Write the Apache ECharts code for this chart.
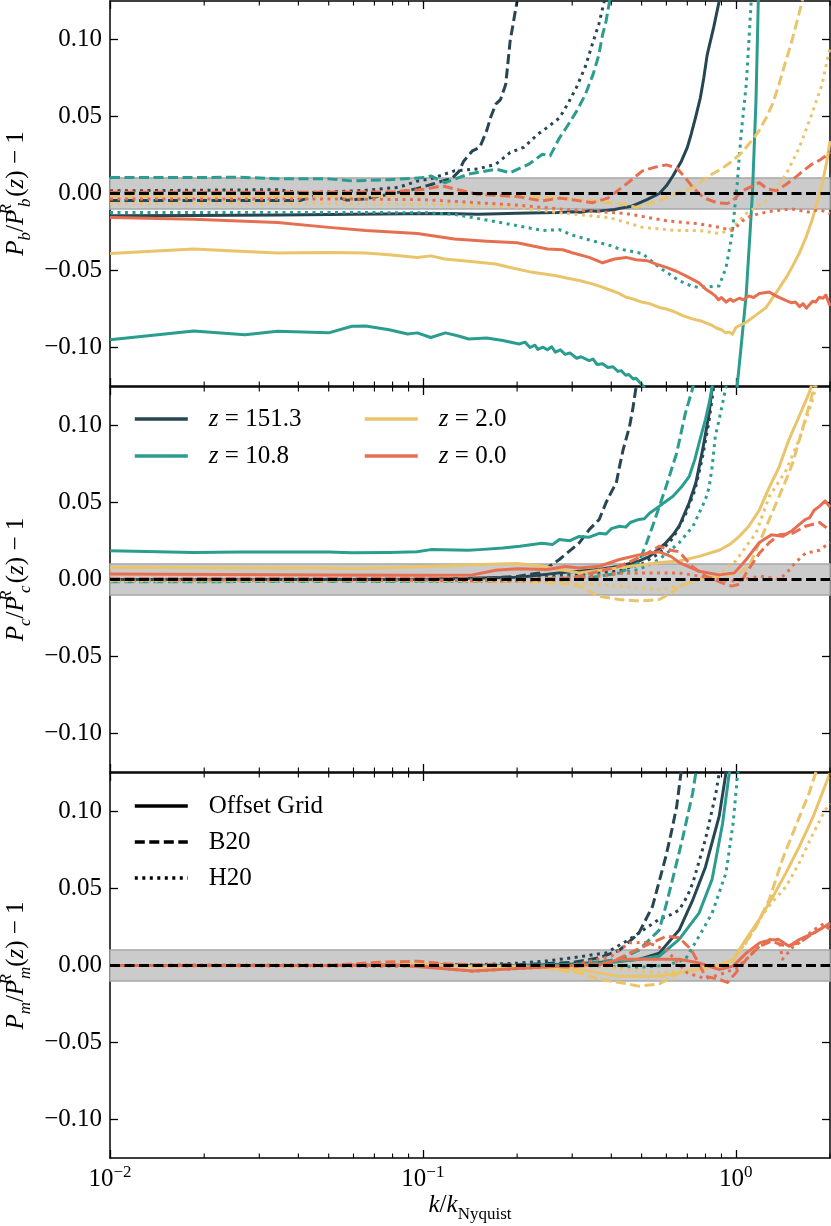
<!DOCTYPE html>
<html>
<head>
<meta charset="UTF-8">
<title>Power spectrum ratios</title>
<script src="https://cdn.jsdelivr.net/npm/echarts@6.0.0/dist/echarts.min.js"></script>
<style>
  html, body { margin: 0; padding: 0; background: #fff; }
  #main { width: 831px; height: 1226px; }
</style>
</head>
<body>
<div id="main"></div>
<script>
// ---- labels / ticks ----
const redshifts = ['151.3', '10.8', '2.0', '0.0'];
const methods = ['Offset Grid', 'B20', 'H20'];
const yTicks = [-0.1, -0.05, 0, 0.05, 0.1];
const xTicks = [0.01, 0.1, 1];
const minorK = [0.02, 0.03, 0.04, 0.05, 0.06, 0.07, 0.08, 0.09,
                0.2, 0.3, 0.4, 0.5, 0.6, 0.7, 0.8, 0.9, 2];

// ---- panel 1: P_b ----  [k/kNyq, ratio - 1]
const bNavySolid = [[0.01,-0.0145],[0.0185,-0.0143],[0.035,-0.014],[0.06,-0.0135],[0.09,-0.0132],[0.12,-0.013],[0.15,-0.0135],[0.2,-0.0128],[0.24,-0.0125],[0.27,-0.0123],[0.3,-0.0118],[0.32,-0.0122],[0.34,-0.0112],[0.36,-0.0116],[0.39,-0.0108],[0.41,-0.0104],[0.43,-0.0095],[0.46,-0.0085],[0.48,-0.007],[0.52,-0.004],[0.57,0],[0.6,0.005],[0.63,0.0115],[0.67,0.021],[0.7,0.03],[0.72,0.0385],[0.745,0.05],[0.77,0.062],[0.79,0.075],[0.81,0.09],[0.85,0.108],[0.885,0.125],[0.95,0.2]];
const bNavyDashed = [[0.01,-0.0045],[0.02,-0.0045],[0.035,-0.0045],[0.0407,-0.0045],[0.045,-0.0015],[0.05,0.0],[0.057,-0.0043],[0.065,-0.0035],[0.078,-0.0005],[0.095,0.003],[0.107,0.006],[0.124,0.01],[0.13,0.014],[0.135,0.021],[0.144,0.0277],[0.152,0.03],[0.16,0.041],[0.165,0.05],[0.171,0.058],[0.177,0.061],[0.184,0.071],[0.19,0.099],[0.2,0.125],[0.21,0.16]];
const bNavyDotted = [[0.01,0.0017],[0.0343,0.0025],[0.0407,0.0005],[0.05,0.001],[0.065,0.002],[0.0836,0.004],[0.0957,0.008],[0.106,0.0095],[0.126,0.0147],[0.15,0.016],[0.171,0.019],[0.19,0.0266],[0.21,0.03],[0.233,0.0385],[0.25,0.043],[0.273,0.049],[0.29,0.058],[0.309,0.0686],[0.33,0.082],[0.348,0.097],[0.365,0.11],[0.38,0.125],[0.4,0.15]];
const bTealSolid = [[0.01,-0.095],[0.0185,-0.0893],[0.027,-0.0917],[0.0343,-0.0895],[0.05,-0.0905],[0.0593,-0.0862],[0.0657,-0.086],[0.078,-0.0885],[0.0894,-0.0912],[0.096,-0.0905],[0.106,-0.0935],[0.118,-0.0905],[0.13,-0.0925],[0.14,-0.0945],[0.16,-0.0938],[0.18,-0.0955],[0.203,-0.0977],[0.212,-0.0965],[0.22,-0.1],[0.228,-0.0985],[0.233,-0.1012],[0.242,-0.0998],[0.25,-0.1015],[0.258,-0.0995],[0.265,-0.103],[0.275,-0.1015],[0.285,-0.1045],[0.295,-0.1035],[0.31,-0.107],[0.32,-0.106],[0.34,-0.1085],[0.35,-0.1075],[0.36,-0.111],[0.375,-0.1105],[0.39,-0.113],[0.405,-0.1125],[0.42,-0.1155],[0.43,-0.115],[0.445,-0.118],[0.455,-0.1175],[0.47,-0.1205],[0.48,-0.12],[0.51,-0.126],[0.6,-0.2],[0.8,-0.35],[0.97,-0.2],[1.01,-0.125],[1.045,-0.095],[1.08,-0.065],[1.11,-0.026],[1.13,0],[1.16,0.06],[1.18,0.125],[1.2,0.2]];
const bTealDashed = [[0.01,0.0104],[0.02,0.0104],[0.026,0.0106],[0.0343,0.0095],[0.05,0.0095],[0.0593,0.0082],[0.078,0.009],[0.1026,0.0104],[0.106,0.0114],[0.1175,0.007],[0.1395,0.0125],[0.171,0.0158],[0.19,0.0135],[0.218,0.019],[0.241,0.0255],[0.255,0.0244],[0.273,0.036],[0.29,0.044],[0.31,0.0535],[0.33,0.064],[0.35,0.0775],[0.365,0.09],[0.375,0.103],[0.385,0.112],[0.395,0.125],[0.41,0.15]];
const bTealDotted = [[0.01,-0.0123],[0.05,-0.0123],[0.1026,-0.0125],[0.126,-0.0135],[0.144,-0.0156],[0.19,-0.02],[0.241,-0.024],[0.273,-0.0235],[0.3,-0.027],[0.348,-0.0307],[0.4,-0.034],[0.425,-0.036],[0.503,-0.039],[0.569,-0.048],[0.659,-0.0566],[0.72,-0.06],[0.763,-0.061],[0.885,-0.06],[0.931,-0.048],[0.974,-0.026],[1.01,0.006],[1.04,0.0386],[1.08,0.071],[1.104,0.103],[1.12,0.125],[1.14,0.16]];
const bYellowSolid = [[0.01,-0.039],[0.0185,-0.036],[0.026,-0.0375],[0.0343,-0.0387],[0.05,-0.0383],[0.0657,-0.0387],[0.078,-0.0398],[0.096,-0.0415],[0.106,-0.0405],[0.1175,-0.0425],[0.145,-0.0443],[0.171,-0.0458],[0.19,-0.048],[0.224,-0.0512],[0.267,-0.0534],[0.29,-0.055],[0.316,-0.0565],[0.348,-0.0587],[0.37,-0.0605],[0.4,-0.063],[0.42,-0.0645],[0.446,-0.0674],[0.47,-0.0685],[0.5,-0.0705],[0.53,-0.0715],[0.569,-0.074],[0.6,-0.075],[0.64,-0.077],[0.68,-0.0795],[0.726,-0.0814],[0.78,-0.083],[0.841,-0.0857],[0.87,-0.0875],[0.9,-0.0885],[0.93,-0.0905],[0.953,-0.09],[0.975,-0.0915],[1.0,-0.087],[1.08,-0.0836],[1.16,-0.079],[1.25,-0.074],[1.35,-0.064],[1.45,-0.0545],[1.52,-0.047],[1.594,-0.039],[1.68,-0.028],[1.75,-0.0177],[1.82,-0.006],[1.887,0.006],[1.95,0.02],[2.0,0.034]];
const bYellowDashed = [[0.01,-0.002],[0.05,-0.002],[0.1,-0.001],[0.15,0.0],[0.2,-0.0015],[0.273,-0.003],[0.348,-0.0047],[0.44,-0.007],[0.48,-0.009],[0.52,-0.007],[0.569,-0.0047],[0.65,0.0],[0.726,0.0037],[0.78,0.008],[0.841,0.0127],[0.9,0.016],[0.974,0.021],[1.05,0.027],[1.12,0.034],[1.18,0.04],[1.25,0.049],[1.31,0.058],[1.375,0.071],[1.44,0.085],[1.51,0.099],[1.57,0.112],[1.63,0.125],[1.7,0.145]];
const bYellowDotted = [[0.01,-0.0065],[0.05,-0.0065],[0.1,-0.007],[0.15,-0.0075],[0.2,-0.009],[0.273,-0.0125],[0.395,-0.0157],[0.45,-0.019],[0.503,-0.022],[0.646,-0.024],[0.763,-0.024],[0.885,-0.026],[0.95,-0.024],[1.003,-0.0197],[1.08,-0.013],[1.25,-0.0047],[1.35,0.004],[1.45,0.0127],[1.594,0.0296],[1.75,0.0516],[1.887,0.071],[2.0,0.095]];
const bOrangeSolid = [[0.01,-0.0156],[0.0185,-0.0167],[0.0343,-0.0188],[0.05,-0.022],[0.0657,-0.024],[0.096,-0.026],[0.126,-0.0296],[0.16,-0.031],[0.2,-0.032],[0.25,-0.036],[0.28,-0.0365],[0.3,-0.0385],[0.34,-0.0415],[0.375,-0.045],[0.41,-0.0425],[0.446,-0.0415],[0.48,-0.043],[0.52,-0.0436],[0.56,-0.046],[0.6,-0.048],[0.646,-0.0505],[0.7,-0.054],[0.763,-0.058],[0.8,-0.062],[0.841,-0.065],[0.86,-0.0665],[0.88,-0.069],[0.9,-0.0675],[0.931,-0.0705],[0.96,-0.0685],[0.98,-0.07],[1.026,-0.068],[1.06,-0.069],[1.1,-0.0665],[1.14,-0.0675],[1.189,-0.065],[1.28,-0.064],[1.33,-0.066],[1.375,-0.0674],[1.45,-0.0695],[1.51,-0.071],[1.55,-0.0705],[1.6,-0.0735],[1.64,-0.0715],[1.68,-0.0745],[1.76,-0.07],[1.8,-0.0705],[1.846,-0.0674],[1.9,-0.068],[1.94,-0.066],[2.0,-0.073]];
const bOrangeDashed = [[0.01,0.0008],[0.05,0.0008],[0.08,0.001],[0.1026,0.0028],[0.115,0.005],[0.126,0.003],[0.15,-0.0005],[0.2,-0.002],[0.24,-0.0048],[0.273,-0.003],[0.3,-0.004],[0.348,-0.006],[0.39,-0.003],[0.446,0.006],[0.503,0.0147],[0.55,0.017],[0.6,0.0186],[0.646,0.0167],[0.69,0.0102],[0.73,0.0037],[0.79,-0.0028],[0.87,-0.006],[0.94,-0.0065],[0.974,-0.005],[1.048,0.0017],[1.189,0.007],[1.26,0.003],[1.35,0.0017],[1.45,0.006],[1.55,0.0105],[1.65,0.015],[1.75,0.019],[1.85,0.0215],[1.94,0.0245],[2.0,0.027]];
const bOrangeDotted = [[0.01,-0.0035],[0.05,-0.0035],[0.1,-0.004],[0.15,-0.006],[0.2,-0.0075],[0.273,-0.01],[0.446,-0.013],[0.6,-0.0177],[0.763,-0.0197],[0.885,-0.022],[0.974,-0.024],[1.08,-0.0157],[1.189,-0.013],[1.3,-0.0115],[1.51,-0.01],[1.7,-0.012],[1.85,-0.0105],[2.0,-0.013]];

// ---- panel 2: P_c ----
const cNavySolid = [[0.01,0.0],[0.1,0.0],[0.152,0.001],[0.204,0.0015],[0.273,0.0043],[0.366,0.0065],[0.425,0.0086],[0.49,0.012],[0.53,0.015],[0.56,0.019],[0.598,0.0238],[0.63,0.029],[0.659,0.0346],[0.71,0.05],[0.745,0.0626],[0.783,0.084],[0.822,0.108],[0.84,0.125],[0.87,0.16]];
const cNavyDashed = [[0.01,0.0],[0.1,0.0005],[0.15,0.0005],[0.2,0.002],[0.236,0.0043],[0.273,0.013],[0.316,0.0238],[0.34,0.0324],[0.366,0.039],[0.385,0.05],[0.403,0.058],[0.415,0.0626],[0.425,0.0734],[0.436,0.084],[0.457,0.099],[0.468,0.11],[0.48,0.125],[0.5,0.15]];
const cNavyDotted = [[0.01,-0.0005],[0.1,0.0],[0.2,0.001],[0.3,0.003],[0.425,0.006],[0.5,0.01],[0.569,0.017],[0.63,0.027],[0.69,0.042],[0.74,0.058],[0.78,0.078],[0.82,0.102],[0.85,0.125],[0.88,0.15]];
const cTealSolid = [[0.01,0.0186],[0.0185,0.0175],[0.026,0.0178],[0.05,0.0178],[0.0593,0.0173],[0.078,0.0176],[0.0957,0.018],[0.106,0.0194],[0.1395,0.019],[0.152,0.0194],[0.18,0.0205],[0.204,0.0216],[0.24,0.0235],[0.26,0.0228],[0.273,0.026],[0.295,0.0252],[0.316,0.028],[0.34,0.0275],[0.366,0.03],[0.385,0.0295],[0.4,0.033],[0.425,0.0346],[0.445,0.034],[0.46,0.037],[0.49,0.039],[0.51,0.0395],[0.53,0.043],[0.569,0.0475],[0.6,0.051],[0.63,0.054],[0.67,0.06],[0.71,0.067],[0.74,0.078],[0.763,0.0886],[0.8,0.104],[0.822,0.1145],[0.84,0.125],[0.87,0.15]];
const cTealDashed = [[0.01,-0.0015],[0.1,-0.0012],[0.2,-0.001],[0.3,0.0],[0.366,0.002],[0.425,0.0043],[0.49,0.011],[0.519,0.024],[0.542,0.0346],[0.598,0.06],[0.647,0.082],[0.69,0.108],[0.73,0.125],[0.76,0.15]];
const cTealDotted = [[0.01,-0.001],[0.1,-0.0005],[0.2,0.0],[0.316,0.002],[0.425,0.004],[0.49,0.0065],[0.569,0.013],[0.659,0.0238],[0.73,0.0346],[0.763,0.043],[0.8,0.052],[0.822,0.06],[0.84,0.073],[0.86,0.093],[0.885,0.104],[0.93,0.125],[0.96,0.15]];
const cYellowSolid = [[0.01,0.0078],[0.05,0.0075],[0.0593,0.007],[0.1026,0.0085],[0.144,0.0095],[0.2,0.0104],[0.236,0.009],[0.273,0.0065],[0.316,0.0043],[0.366,0.006],[0.425,0.0076],[0.5,0.0095],[0.569,0.011],[0.66,0.012],[0.763,0.015],[0.885,0.019],[0.96,0.023],[1.026,0.028],[1.1,0.0346],[1.189,0.045],[1.28,0.06],[1.375,0.073],[1.48,0.091],[1.594,0.106],[1.715,0.121],[1.74,0.125],[1.8,0.14]];
const cYellowDashed = [[0.01,-0.0005],[0.1,-0.0005],[0.2,-0.001],[0.273,-0.002],[0.316,-0.0043],[0.366,-0.011],[0.425,-0.013],[0.49,-0.014],[0.569,-0.013],[0.62,-0.009],[0.66,-0.0043],[0.763,0.0],[0.885,0.002],[1.03,0.0043],[1.104,0.0086],[1.189,0.024],[1.28,0.039],[1.375,0.054],[1.45,0.065],[1.52,0.0756],[1.63,0.097],[1.75,0.119],[1.78,0.125],[1.85,0.14]];
const cYellowDotted = [[0.01,-0.001],[0.1,-0.001],[0.2,-0.0015],[0.316,-0.003],[0.425,-0.0043],[0.569,-0.0065],[0.66,-0.0043],[0.763,0.0],[0.885,0.004],[1.0,0.012],[1.08,0.0216],[1.16,0.03],[1.28,0.054],[1.45,0.071],[1.594,0.091],[1.75,0.115],[1.8,0.125],[1.9,0.14]];
const cOrangeSolid = [[0.01,0.0035],[0.05,0.003],[0.1026,0.0028],[0.144,0.003],[0.171,0.006],[0.2,0.007],[0.25,0.0065],[0.285,0.0085],[0.316,0.0075],[0.366,0.0086],[0.425,0.013],[0.49,0.016],[0.569,0.018],[0.62,0.015],[0.66,0.011],[0.763,0.0054],[0.885,0.003],[0.99,0.0043],[1.08,0.013],[1.189,0.024],[1.3,0.029],[1.41,0.028],[1.52,0.032],[1.6,0.036],[1.67,0.039],[1.72,0.04],[1.78,0.045],[1.85,0.0475],[1.93,0.051],[2.0,0.047]];
const cOrangeDashed = [[0.01,0.0005],[0.1,0.0008],[0.2,0.0],[0.3,0.001],[0.425,0.0086],[0.5,0.015],[0.569,0.0216],[0.62,0.019],[0.66,0.018],[0.72,0.009],[0.8,0.0022],[0.9,-0.002],[0.97,-0.0043],[1.03,-0.003],[1.08,0.0043],[1.189,0.017],[1.28,0.024],[1.375,0.029],[1.52,0.03],[1.67,0.0346],[1.85,0.037],[2.0,0.032]];
const cOrangeDotted = [[0.01,0.0],[0.1,-0.0005],[0.2,-0.001],[0.3,0.0],[0.425,0.004],[0.569,0.0043],[0.66,0.0043],[0.885,0.0],[1.0,-0.001],[1.2,0.0022],[1.375,0.0],[1.45,0.004],[1.55,0.011],[1.67,0.017],[1.85,0.019],[2.0,0.024]];

// ---- panel 3: P_m ----
const mNavySolid = [[0.01,0.0],[0.2,0.0],[0.3,0.001],[0.4,0.0025],[0.49,0.004],[0.569,0.008],[0.659,0.023],[0.73,0.043],[0.8,0.064],[0.885,0.097],[0.93,0.125],[0.96,0.15]];
const mNavyDashed = [[0.01,0.0],[0.1,0.0],[0.2,0.0005],[0.3,0.002],[0.366,0.005],[0.425,0.01],[0.49,0.021],[0.542,0.0385],[0.598,0.071],[0.62,0.085],[0.647,0.103],[0.668,0.125],[0.7,0.15]];
const mNavyDotted = [[0.01,0.0],[0.15,0.0005],[0.2,0.0015],[0.25,0.003],[0.3,0.005],[0.385,0.0082],[0.457,0.017],[0.569,0.03],[0.62,0.033],[0.659,0.036],[0.7,0.045],[0.73,0.054],[0.8,0.082],[0.864,0.112],[0.885,0.125],[0.91,0.15]];
const mTealSolid = [[0.01,0.0],[0.2,0.0],[0.3,0.0005],[0.4,0.002],[0.49,0.004],[0.569,0.006],[0.659,0.017],[0.763,0.034],[0.84,0.056],[0.907,0.092],[0.953,0.125],[0.98,0.15]];
const mTealDashed = [[0.01,0.0],[0.2,0.0],[0.3,0.0005],[0.425,0.004],[0.49,0.01],[0.569,0.023],[0.6,0.04],[0.628,0.056],[0.675,0.082],[0.728,0.112],[0.745,0.125],[0.77,0.15]];
const mTealDotted = [[0.01,0.0],[0.3,0.0],[0.5,-0.001],[0.598,0.0],[0.69,0.004],[0.763,0.019],[0.84,0.034],[0.93,0.06],[0.98,0.092],[1.014,0.125],[1.04,0.15]];
const mYellowSolid = [[0.01,0.0],[0.05,0.0],[0.1,0.001],[0.15,-0.001],[0.2,-0.0005],[0.25,-0.002],[0.316,-0.0026],[0.366,-0.0048],[0.425,-0.007],[0.569,-0.007],[0.659,-0.0048],[0.763,-0.0026],[0.885,0.0],[0.98,0.004],[1.077,0.017],[1.189,0.03],[1.3,0.043],[1.445,0.06],[1.594,0.077],[1.77,0.097],[1.89,0.112],[2.0,0.125]];
const mYellowDashed = [[0.01,0.0],[0.1,0.0005],[0.2,-0.001],[0.25,-0.002],[0.316,-0.0048],[0.366,-0.009],[0.425,-0.011],[0.49,-0.0134],[0.569,-0.012],[0.62,-0.008],[0.659,-0.0048],[0.763,-0.0026],[0.885,0.0],[0.99,0.004],[1.054,0.0125],[1.16,0.025],[1.28,0.043],[1.41,0.069],[1.55,0.09],[1.715,0.112],[1.8,0.125],[1.9,0.14]];
const mYellowDotted = [[0.01,0.0],[0.1,-0.0005],[0.2,-0.001],[0.366,-0.0005],[0.569,-0.0048],[0.763,-0.0026],[0.98,0.0028],[1.08,0.0147],[1.19,0.03],[1.3,0.0406],[1.445,0.051],[1.594,0.0665],[1.77,0.086],[1.93,0.101],[2.0,0.105]];
const mOrangeSolid = [[0.01,0.0],[0.05,0.0],[0.08,0.0005],[0.1,-0.001],[0.144,-0.0035],[0.2,-0.002],[0.3,0.0],[0.366,0.0005],[0.425,0.004],[0.569,0.004],[0.659,0.004],[0.763,0.0017],[0.885,-0.0026],[0.98,-0.0004],[1.08,0.008],[1.19,0.0147],[1.3,0.0168],[1.375,0.0168],[1.48,0.0125],[1.594,0.0168],[1.77,0.021],[1.93,0.0255],[2.0,0.0276]];
const mOrangeDashed = [[0.01,0.0],[0.05,0.0],[0.07,0.002],[0.096,0.0028],[0.12,0.001],[0.2,0.0],[0.3,-0.001],[0.4,0.002],[0.49,0.011],[0.6,0.019],[0.659,0.018],[0.72,0.0104],[0.8,-0.007],[0.885,-0.009],[0.94,-0.011],[1.0,-0.0048],[1.08,0.004],[1.19,0.0125],[1.3,0.0158],[1.445,0.0125],[1.594,0.0147],[1.77,0.021],[1.93,0.0255],[2.0,0.0235]];
const mOrangeDotted = [[0.01,0.0],[0.1,-0.0005],[0.144,-0.0037],[0.2,-0.002],[0.3,0.0],[0.4,0.006],[0.457,0.0147],[0.52,0.015],[0.6,0.01],[0.7,-0.0048],[0.8,-0.0085],[0.885,-0.006],[1.0,-0.002],[1.08,0.004],[1.25,0.0168],[1.375,0.017],[1.41,0.004],[1.52,0.012],[1.594,0.0147],[1.77,0.023],[1.93,0.0276],[2.0,0.025]];

// curves per panel: [redshift][method]
const panels = [
  [[bNavySolid, bNavyDashed, bNavyDotted], [bTealSolid, bTealDashed, bTealDotted],
   [bYellowSolid, bYellowDashed, bYellowDotted], [bOrangeSolid, bOrangeDashed, bOrangeDotted]],
  [[cNavySolid, cNavyDashed, cNavyDotted], [cTealSolid, cTealDashed, cTealDotted],
   [cYellowSolid, cYellowDashed, cYellowDotted], [cOrangeSolid, cOrangeDashed, cOrangeDotted]],
  [[mNavySolid, mNavyDashed, mNavyDotted], [mTealSolid, mTealDashed, mTealDotted],
   [mYellowSolid, mYellowDashed, mYellowDotted], [mOrangeSolid, mOrangeDashed, mOrangeDotted]]
];
const panelSub = ['b', 'c', 'm'];

// ---- styles ----
const FONT = 'Liberation Serif';
const colors = ['#264653', '#2a9d8f', '#e9c46a', '#e76f51'];
const dashes = ['solid', [10, 4.5], [3, 4.5]];
const LW = 3;
const Y_MIN = -0.125, Y_MAX = 0.125;
const tops = [1, 387, 773];
const H = 385;

const axisLine = { show: true, onZero: false, lineStyle: { color: '#000', width: 1.5 } };
const majorTick = { show: true, inside: true, length: 8, lineStyle: { color: '#000', width: 1.3 } };

const chart = echarts.init(document.getElementById('main'));
const grids = [], xAxes = [], yAxes = [], series = [];

tops.forEach((top, g) => {
  grids.push({ left: 110, width: 720, top: top, height: H, containLabel: false, outerBoundsMode: 'none' });
  const bottom = g === 2;
  const s = panelSub[g];
  xAxes.push({
    type: 'log', gridIndex: g, min: 0.01, max: 2, position: 'bottom',
    axisLine: axisLine, splitLine: { show: false },
    axisTick: Object.assign({ customValues: xTicks }, majorTick),
    axisLabel: {
      show: bottom, customValues: xTicks, color: '#000', fontFamily: FONT, fontSize: 25, lineHeight: 30, margin: 6,
      formatter: v => {
        const e = Math.round(Math.log10(v));
        return '10{sup|' + (e < 0 ? '−' : '') + Math.abs(e) + '}';
      },
      rich: { sup: { fontFamily: FONT, fontSize: 17, lineHeight: 16, verticalAlign: 'top', color: '#000' } }
    },
    name: bottom ? '{i|k}/{i|k}{sub|Nyquist}' : '',
    nameLocation: 'middle', nameGap: 29, nameMoveOverlap: false,
    nameTextStyle: {
      color: '#000', fontFamily: FONT, fontSize: 25, lineHeight: 36,
      rich: {
        i: { fontFamily: FONT, fontSize: 25, fontStyle: 'italic', color: '#000' },
        sub: { fontFamily: FONT, fontSize: 17, lineHeight: 18, verticalAlign: 'bottom', color: '#000' }
      }
    }
  });
  xAxes.push({
    type: 'log', gridIndex: g, min: 0.01, max: 2, position: 'top',
    axisLine: axisLine, splitLine: { show: false },
    axisTick: Object.assign({ customValues: xTicks }, majorTick),
    axisLabel: { show: false }
  });
  yAxes.push({
    type: 'value', gridIndex: g, min: Y_MIN, max: Y_MAX, position: 'left',
    axisLine: axisLine, splitLine: { show: false },
    axisTick: Object.assign({ customValues: yTicks }, majorTick),
    axisLabel: {
      customValues: yTicks, color: '#000', fontFamily: FONT, fontSize: 25, margin: 8,
      formatter: v => (v < 0 ? '−' : '') + Math.abs(v).toFixed(2)
    },
    name: '{i|P}{sb|' + s + '}/{i|P}{sp|R}{sbw|' + s + '}({i|z}) − 1',
    nameLocation: 'middle', nameRotate: 90, nameGap: 76, nameMoveOverlap: false,
    nameTextStyle: {
      color: '#000', fontFamily: FONT, fontSize: 25, lineHeight: 36,
      rich: {
        i: { fontFamily: FONT, fontSize: 25, fontStyle: 'italic', color: '#000' },
        sb: { fontFamily: FONT, fontSize: 17, fontStyle: 'italic', lineHeight: 18, verticalAlign: 'bottom', color: '#000' },
        sp: { fontFamily: FONT, fontSize: 17, fontStyle: 'italic', lineHeight: 24, verticalAlign: 'top', width: 1, color: '#000' },
        sbw: { fontFamily: FONT, fontSize: 17, fontStyle: 'italic', lineHeight: 18, verticalAlign: 'bottom', width: 12, color: '#000' }
      }
    }
  });
  yAxes.push({
    type: 'value', gridIndex: g, min: Y_MIN, max: Y_MAX, position: 'right',
    axisLine: axisLine, splitLine: { show: false },
    axisTick: Object.assign({ customValues: yTicks }, majorTick),
    axisLabel: { show: false }
  });

  // grey +-1% band
  series.push({
    type: 'line', xAxisIndex: 2 * g, yAxisIndex: 2 * g, data: [], silent: true,
    markArea: {
      silent: true,
      itemStyle: { color: '#cbcbcb', borderColor: '#a8a8a8', borderWidth: 1.5 },
      data: [[{ coord: [0.01, -0.01] }, { coord: [2, 0.01] }]]
    }
  });

  // curves
  panels[g].forEach((row, zi) => {
    row.forEach((pts, mi) => {
      series.push({
        type: 'line', name: 'p' + g + '-' + zi + '-' + mi,
        xAxisIndex: 2 * g, yAxisIndex: 2 * g,
        data: pts, showSymbol: false, symbol: 'none', clip: true, silent: true,
        lineStyle: { color: colors[zi], width: LW, type: dashes[mi], cap: 'butt', join: 'round' },
        z: 3
      });
    });
  });

  // zero line
  series.push({
    type: 'line', xAxisIndex: 2 * g, yAxisIndex: 2 * g, silent: true,
    data: [[0.01, 0], [2, 0]], showSymbol: false, symbol: 'none',
    lineStyle: { color: '#000', width: 3.2, type: [10, 4.5], cap: 'butt' }, z: 5
  });

  // minor x ticks (bottom and top)
  series.push({
    type: 'custom', xAxisIndex: 2 * g, yAxisIndex: 2 * g, silent: true, z: 6,
    data: minorK.map(k => [k, 0]),
    renderItem: (params, api) => {
      const k = api.value(0);
      const b = api.coord([k, Y_MIN]);
      const t = api.coord([k, Y_MAX]);
      const st = { stroke: '#000', lineWidth: 1.1 };
      return {
        type: 'group', children: [
          { type: 'line', shape: { x1: b[0], y1: b[1], x2: b[0], y2: b[1] - 4.5 }, style: st },
          { type: 'line', shape: { x1: t[0], y1: t[1], x2: t[0], y2: t[1] + 4.5 }, style: st }
        ]
      };
    }
  });
});

// legend-only series
redshifts.forEach((z, i) => {
  series.push({ type: 'line', name: 'z = ' + z, data: [], xAxisIndex: 0, yAxisIndex: 0,
    symbol: 'none', lineStyle: { color: colors[i], width: 3.6, type: 'solid' }, itemStyle: { color: colors[i] } });
});
methods.forEach((m, i) => {
  series.push({ type: 'line', name: m, data: [], xAxisIndex: 0, yAxisIndex: 0,
    symbol: 'none', lineStyle: { color: '#000', width: 3.6, type: dashes[i] }, itemStyle: { color: '#000' } });
});

const legendText = {
  color: '#000', fontFamily: FONT, fontSize: 25, lineHeight: 30,
  rich: {
    g: { width: 16 },
    i: { fontFamily: FONT, fontSize: 25, fontStyle: 'italic', color: '#000' }
  }
};
const legendFmt = name => name.indexOf('z = ') === 0
  ? '{g| }{i|z} = ' + name.slice(4) : '{g| }' + name;
const legendBase = {
  orient: 'vertical', itemWidth: 53, itemHeight: 2, padding: 0, selectedMode: false,
  itemStyle: { opacity: 0 }, lineStyle: { width: 3.6 },
  textStyle: legendText, formatter: legendFmt
};

chart.setOption({
  animation: false,
  backgroundColor: '#fff',
  grid: grids,
  xAxis: xAxes,
  yAxis: yAxes,
  legend: [
    Object.assign({}, legendBase, { data: ['z = ' + redshifts[0], 'z = ' + redshifts[1]], left: 133, top: 404, itemGap: 7 }),
    Object.assign({}, legendBase, { data: ['z = ' + redshifts[2], 'z = ' + redshifts[3]], left: 363, top: 404, itemGap: 7 }),
    Object.assign({}, legendBase, { data: methods, left: 133, top: 791, itemGap: 6 })
  ],
  series: series
});
</script>
</body>
</html>
